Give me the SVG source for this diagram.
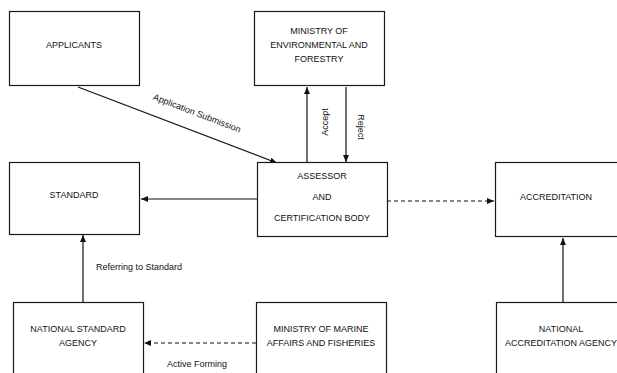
<svg xmlns="http://www.w3.org/2000/svg" width="617" height="373" viewBox="0 0 617 373">
<style>
.box{fill:#fff;stroke:#1a1a1a;stroke-width:1.2}
.t{font-family:"Liberation Sans",Arial,sans-serif;font-size:9px;fill:#111;text-anchor:middle}
.l{font-family:"Liberation Sans",Arial,sans-serif;font-size:9px;fill:#111}
.c{stroke:#111;stroke-width:1.2;fill:none}
.d{stroke-dasharray:4 3}
</style>
<defs>
<marker id="ah" markerWidth="8" markerHeight="8" refX="7" refY="4" orient="auto" markerUnits="userSpaceOnUse">
<path d="M0,1 L7,4 L0,7 Z" fill="#111"/>
</marker>
</defs>
<rect width="617" height="373" fill="#fff"/>
<g id="connectors">
<line class="c" x1="78" y1="87" x2="277" y2="163" marker-end="url(#ah)"/>
<line class="c" x1="307" y1="163" x2="307" y2="87" marker-end="url(#ah)"/>
<line class="c" x1="346" y1="87" x2="346" y2="162" marker-end="url(#ah)"/>
<line class="c" x1="257" y1="199" x2="141" y2="199" marker-end="url(#ah)"/>
<line class="c d" x1="387" y1="201" x2="494" y2="201" marker-end="url(#ah)"/>
<line class="c" x1="83" y1="302" x2="83" y2="235" marker-end="url(#ah)"/>
<line class="c d" x1="256" y1="343" x2="144" y2="343" marker-end="url(#ah)"/>
<line class="c" x1="563" y1="302" x2="563" y2="238" marker-end="url(#ah)"/>
<text class="l" transform="translate(196,116) rotate(21)" text-anchor="middle">Application Submission</text>
<text class="l" transform="translate(328,122) rotate(-90)" text-anchor="middle">Accept</text>
<text class="l" transform="translate(358,127) rotate(90)" text-anchor="middle">Reject</text>
<text class="l" x="96" y="270">Referring to Standard</text>
<text class="l" x="167" y="367">Active Forming</text>
</g>
<g id="applicants">
<rect class="box" x="9.5" y="11.5" width="130" height="74"/>
<text class="t" x="74" y="48">APPLICANTS</text>
</g>
<g id="ministry-env">
<rect class="box" x="254.5" y="11.5" width="130" height="74"/>
<text class="t" x="319" y="34">MINISTRY OF</text>
<text class="t" x="319" y="48">ENVIRONMENTAL AND</text>
<text class="t" x="319" y="62">FORESTRY</text>
</g>
<g id="standard">
<rect class="box" x="9.5" y="162.5" width="130" height="72"/>
<text class="t" x="74" y="198">STANDARD</text>
</g>
<g id="assessor">
<rect class="box" x="257.5" y="162.5" width="130" height="74"/>
<text class="t" x="322" y="179">ASSESSOR</text>
<text class="t" x="322" y="200">AND</text>
<text class="t" x="322" y="221">CERTIFICATION BODY</text>
</g>
<g id="accreditation">
<rect class="box" x="495.5" y="162.5" width="130" height="74"/>
<text class="t" x="556" y="200">ACCREDITATION</text>
</g>
<g id="national-standard-agency">
<rect class="box" x="13.5" y="302.5" width="130" height="80"/>
<text class="t" x="78" y="332">NATIONAL STANDARD</text>
<text class="t" x="78" y="346">AGENCY</text>
</g>
<g id="ministry-marine">
<rect class="box" x="256.5" y="302.5" width="130" height="80"/>
<text class="t" x="321" y="332">MINISTRY OF MARINE</text>
<text class="t" x="321" y="346">AFFAIRS AND FISHERIES</text>
</g>
<g id="national-accreditation-agency">
<rect class="box" x="496.5" y="302.5" width="130" height="80"/>
<text class="t" x="561" y="332">NATIONAL</text>
<text class="t" x="561" y="346">ACCREDITATION AGENCY</text>
</g>
</svg>
